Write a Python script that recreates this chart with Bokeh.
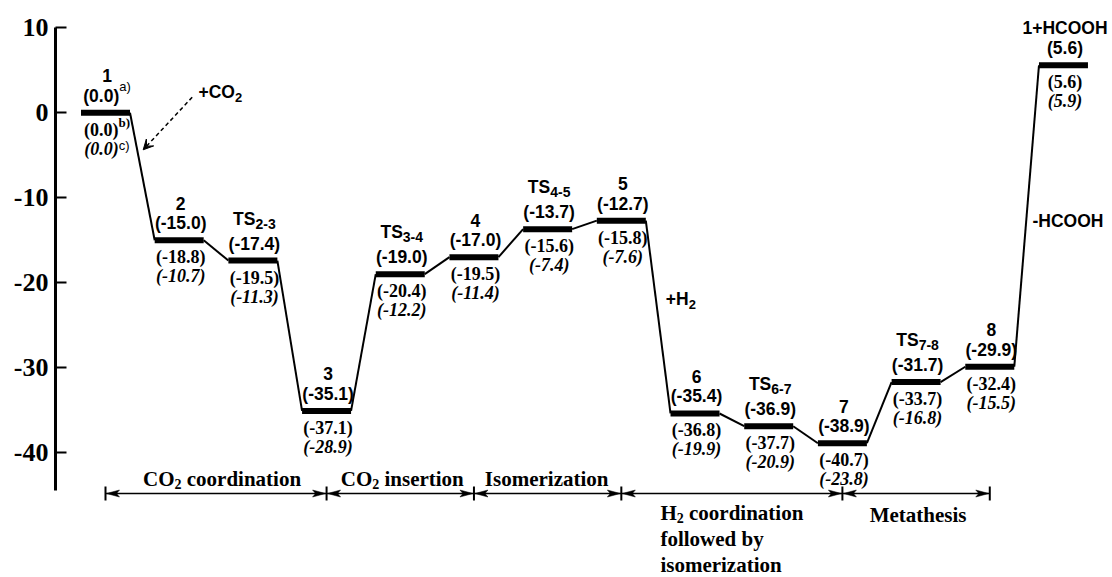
import re
from bokeh.plotting import figure
from bokeh.models import Range1d, FixedTicker, ColumnDataSource, Arrow, VeeHead
from bokeh.embed import file_html
from bokeh.resources import INLINE
from bokeh.core.properties import value

# ---------------- data ----------------
level_names = ["1", "2", "TS_{2-3}", "3", "TS_{3-4}", "4", "TS_{4-5}", "5",
               "6", "TS_{6-7}", "7", "TS_{7-8}", "8", "1+HCOOH"]
energy_main = [0.0, -15.0, -17.4, -35.1, -19.0, -17.0, -13.7, -12.7,
               -35.4, -36.9, -38.9, -31.7, -29.9, 5.6]
energy_b = [0.0, -18.8, -19.5, -37.1, -20.4, -19.5, -15.6, -15.8,
            -36.8, -37.7, -40.7, -33.7, -32.4, 5.6]
energy_c = [0.0, -10.7, -11.3, -28.9, -12.2, -11.4, -7.4, -7.6,
            -19.9, -20.9, -23.8, -16.8, -15.5, 5.9]
footnote_marks = ["a)", "b)", "c)"]          # attached to level "1"
stage_names = ["CO_{2} coordination", "CO_{2} insertion", "Isomerization",
               "H_{2} coordination|followed by|isomerization", "Metathesis"]
stage_bounds = [0, 3, 5, 7, 10, 12]          # level indices of the brackets
y_ticks = [10, 0, -10, -20, -30, -40]
y_tick_labels = ["10", "0", "-10", "-20", "-30", "-40"]
note_texts = ["+CO_{2}", "+H_{2}", "-HCOOH"]

# ---------------- layout / style ----------------
W, H = 1110, 577
FRAME_LEFT = 55
PX_X = 73.69          # px per level step
PX_Y = 8.494          # px per kcal/mol
X0 = (FRAME_LEFT - 105.0) / PX_X
X1 = X0 + (W - FRAME_LEFT) / PX_X
Y1 = 112.3 / PX_Y
Y0 = Y1 - H / PX_Y
HALF = 24.5 / PX_X    # half width of an energy level bar
BRACKET_Y = (112.3 - 493.0) / PX_Y
TEXT_SHIFT = -6       # global vertical correction for text placement (px)

NAME_DY, NAME_TS_DY, VAL_DY, B_DY, C_DY, TEXT_DX = -31, -36, -11, 23, 42, 1.5

WID = {
    "sansB": {' ': 278, '(': 333, ')': 333, '+': 584, '-': 333, '.': 278, 'C': 722,
              'H': 722, 'O': 778, 'S': 667, 'T': 611, 'a': 556, 'b': 611, 'c': 556, '_d': 556},
    "sansR": {' ': 278, '(': 333, ')': 333, '+': 584, '-': 333, '.': 278,
              'a': 556, 'b': 556, 'c': 500, '_d': 556},
    "serifB": {' ': 250, '(': 333, ')': 333, '+': 570, '-': 333, '.': 250, 'C': 722,
               'H': 778, 'I': 389, 'M': 944, 'O': 778, 'a': 500, 'b': 556, 'c': 444,
               'd': 556, 'e': 444, 'f': 333, 'h': 556, 'i': 278, 'l': 278, 'm': 833,
               'n': 556, 'o': 500, 'r': 444, 's': 389, 't': 333, 'w': 722, 'y': 500,
               'z': 444, '_d': 500},
    "serifBI": {' ': 250, '(': 333, ')': 333, '-': 333, '.': 250, '_d': 500},
}
FONTS = {"sansB": ("Liberation Sans", "bold"), "sansR": ("Liberation Sans", "normal"),
         "serifB": ("Liberation Serif", "bold"), "serifBI": ("Liberation Serif", "bold italic")}


def tw(t, fk, size):
    tab = WID[fk]
    return sum(tab['_d'] if ch.isdigit() else tab.get(ch, 500) for ch in t) / 1000.0 * size


def parse(markup, base, sub=None, sup=None):
    out = []
    for part in re.split(r'(_\{[^}]*\}|\^\{[^}]*\})', markup):
        if not part:
            continue
        if part.startswith('_{'):
            out.append((part[2:-1], sub[0], sub[1], sub[2]))
        elif part.startswith('^{'):
            out.append((part[2:-1], sup[0], sup[1], sup[2]))
        else:
            out.append((part, base[0], base[1], 0))
    return out


groups = {}


def add(fk, size, align, x, y, t, dx, dy):
    g = groups.setdefault((fk, size, align), dict(x=[], y=[], text=[], dx=[], dy=[]))
    g["x"].append(x); g["y"].append(y); g["text"].append(t)
    g["dx"].append(dx); g["dy"].append(dy + TEXT_SHIFT)


def emit(x, y, pieces, dx, dy, align="center"):
    if len(pieces) == 1:
        t, fk, s, ddy = pieces[0]
        add(fk, s, align, x, y, t, dx, dy + ddy)
        return
    widths = [tw(t, fk, s) for t, fk, s, _ in pieces]
    cur = dx - sum(widths) / 2.0 if align == "center" else dx
    for (t, fk, s, ddy), w in zip(pieces, widths):
        lead = len(t) - len(t.lstrip(' '))
        core = t.strip(' ')
        add(fk, s, "left", x, y, core, cur + tw(' ' * lead, fk, s), dy + ddy)
        cur += w


p = figure(width=W, height=H, x_range=Range1d(X0, X1), y_range=Range1d(Y0, Y1),
           output_backend="svg", toolbar_location=None, x_axis_location=None,
           min_border_left=FRAME_LEFT, min_border_right=0, min_border_top=0,
           min_border_bottom=0)
p.outline_line_color = None
p.grid.grid_line_color = None
p.background_fill_color = "white"
p.border_fill_color = "white"

ax = p.yaxis[0]
ax.ticker = FixedTicker(ticks=y_ticks)
ax.major_label_overrides = {float(k): v for k, v in zip(y_ticks, y_tick_labels)}
ax.bounds = (-44.5, 10)
ax.axis_line_width = 3
ax.major_tick_line_width = 2
ax.major_tick_in = 11
ax.major_tick_out = 0
ax.minor_tick_line_color = None
ax.major_label_standoff = 7
ax.major_label_text_font = "Liberation Serif"
ax.major_label_text_font_style = "bold"
ax.major_label_text_font_size = "26px"
ax.major_label_text_color = "black"

idx = list(range(len(energy_main)))

# level bars
p.segment(x0=[i - HALF for i in idx], x1=[i + HALF for i in idx],
          y0=energy_main, y1=energy_main, line_width=6, line_color="black")
# connectors
p.segment(x0=[i + HALF for i in idx[:-1]], y0=energy_main[:-1],
          x1=[i + 1 - HALF for i in idx[:-1]], y1=energy_main[1:],
          line_width=2, line_color="black")

# level labels
NAME = ("sansB", 17.5)
NAME_SUB = ("sansB", 14, 5)
for i in idx:
    e = energy_main[i]
    name = level_names[i]
    emit(i, e, parse(name, NAME, NAME_SUB), TEXT_DX,
         NAME_TS_DY if "_{" in name else NAME_DY)
    up = "(%.1f)" % e
    lb = "(%.1f)" % energy_b[i]
    lc = "(%.1f)" % energy_c[i]
    if i == 0:
        up += "^{%s}" % footnote_marks[0]
        lb += "^{%s}" % footnote_marks[1]
        lc += "^{%s}" % footnote_marks[2]
    emit(i, e, parse(up, ("sansB", 17.5), sup=("sansR", 13, -9)), TEXT_DX, VAL_DY)
    emit(i, e, parse(lb, ("serifB", 18), sup=("serifB", 13, -7)), TEXT_DX, B_DY)
    emit(i, e, parse(lc, ("serifBI", 18), sup=("sansR", 13, -3)), TEXT_DX, C_DY)

# side notes (anchored to a level, offsets in px)
note_anchor = [0, 7, 13]
note_off = [(93, -14.6), (44.5, 84.8), (-31, 162)]
for t, a, (dx, dy) in zip(note_texts, note_anchor, note_off):
    emit(a, energy_main[a], parse(t, ("sansB", 17.5), ("sansB", 13, 5)), dx, dy, "left")

# dashed arrow for +CO2
a0 = note_anchor[0]
p.add_layout(Arrow(end=VeeHead(size=10, fill_color="black", line_color="black", line_width=1),
                   x_start=a0 + 86.7 / PX_X, y_start=energy_main[a0] + 15.6 / PX_Y,
                   x_end=a0 + 37.7 / PX_X, y_end=energy_main[a0] - 37.0 / PX_Y,
                   line_dash="4 3", line_width=1.5, line_color="black"))

# stage brackets
sb = stage_bounds
p.segment(x0=sb[:-1], x1=sb[1:], y0=[BRACKET_Y] * (len(sb) - 1), y1=[BRACKET_Y] * (len(sb) - 1),
          line_width=1.5, line_color="black")
p.segment(x0=sb, x1=sb, y0=[BRACKET_Y - 7 / PX_Y] * len(sb), y1=[BRACKET_Y + 7 / PX_Y] * len(sb),
          line_width=2, line_color="black")
L, N, h = 13 / PX_X, 10 / PX_X, 3.5 / PX_Y
hx, hy = [], []
for a, b in zip(sb[:-1], sb[1:]):
    t = a + 1 / PX_X
    hx.append([t, t + L, t + N, t + L]); hy.append([BRACKET_Y, BRACKET_Y + h, BRACKET_Y, BRACKET_Y - h])
    t = b - 1 / PX_X
    hx.append([t, t - L, t - N, t - L]); hy.append([BRACKET_Y, BRACKET_Y + h, BRACKET_Y, BRACKET_Y - h])
p.patches(xs=hx, ys=hy, fill_color="black", line_color="black", line_width=0.5)

STAGE = ("serifB", 21)
STAGE_SUB = ("serifB", 14, 5)
stage_side = ["above", "above", "above", "below", "below"]
stage_dx = [6, 2, -1, 0, 2]
for k, name in enumerate(stage_names):
    mid = (sb[k] + sb[k + 1]) / 2.0
    lines = name.split("|")
    if stage_side[k] == "above":
        emit(mid, BRACKET_Y, parse(lines[0], STAGE, STAGE_SUB), stage_dx[k], -9)
    elif len(lines) == 1:
        emit(mid, BRACKET_Y, parse(lines[0], STAGE, STAGE_SUB), stage_dx[k], 27)
    else:
        first = parse(lines[0], STAGE, STAGE_SUB)
        left = -sum(tw(t, fk, s) for t, fk, s, _ in first) / 2.0 + stage_dx[k]
        for j, ln in enumerate(lines):
            emit(mid, BRACKET_Y, parse(ln, STAGE, STAGE_SUB), left, 25 + 26 * j, "left")

for (fk, size, align), g in groups.items():
    fam, style = FONTS[fk]
    p.text(x="x", y="y", text="text", x_offset="dx", y_offset="dy",
           source=ColumnDataSource(g), text_font=value(fam), text_font_style=style,
           text_font_size="%gpx" % size, text_align=align, text_baseline="alphabetic",
           text_color="black")

open("out.html", "w").write(file_html(p, INLINE))
